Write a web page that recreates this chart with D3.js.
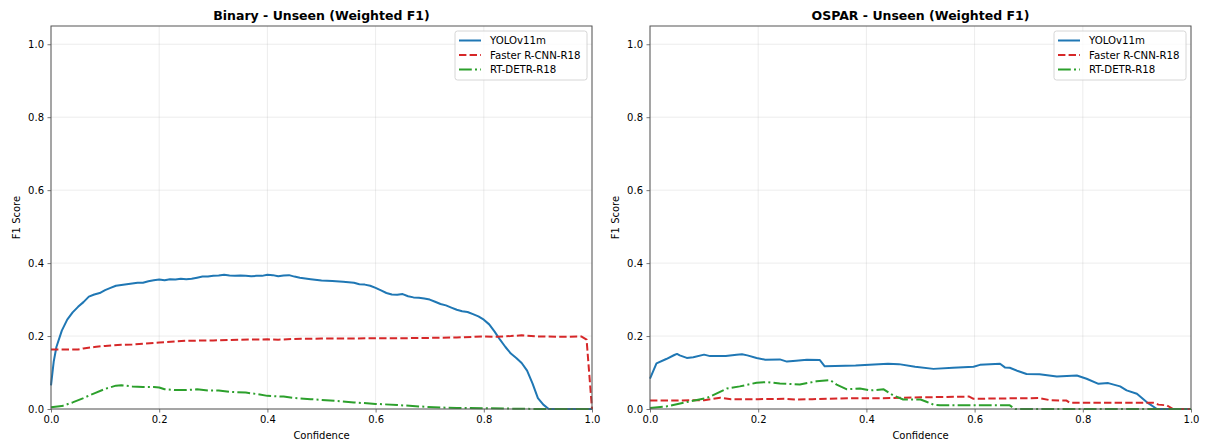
<!DOCTYPE html>
<html>
<head>
<meta charset="utf-8">
<script src="https://cdn.jsdelivr.net/npm/d3@7"></script>
<style>
  html, body { margin: 0; padding: 0; background: #fff; }
  svg { display: block; font-family: "DejaVu Sans", sans-serif; }
</style>
</head>
<body>
<svg id="chart" width="1209" height="447"></svg>
<script>
// Tick labels shared by both panels
const xTicks = [0, 0.2, 0.4, 0.6, 0.8, 1.0];
const yTicks = [0, 0.2, 0.4, 0.6, 0.8, 1.0];
const seriesNames = ["YOLOv11m", "Faster R-CNN-R18", "RT-DETR-R18"];
const panelTitles = ["Binary - Unseen (Weighted F1)", "OSPAR - Unseen (Weighted F1)"];

// Binary task: YOLOv11m
const binYoloConf = [0,0.005,0.01,0.02,0.03,0.04,0.05,0.06,0.07,0.08,0.09,0.1,0.11,0.12,0.13,0.14,0.15,0.16,0.17,0.18,0.19,0.2,0.21,0.22,0.23,0.24,0.25,0.26,0.27,0.28,0.29,0.3,0.31,0.32,0.33,0.34,0.35,0.36,0.37,0.38,0.39,0.4,0.41,0.42,0.43,0.44,0.45,0.46,0.47,0.48,0.5,0.52,0.54,0.56,0.57,0.58,0.59,0.6,0.61,0.62,0.63,0.64,0.65,0.66,0.67,0.68,0.69,0.7,0.71,0.72,0.73,0.74,0.75,0.76,0.77,0.78,0.79,0.8,0.81,0.82,0.83,0.84,0.85,0.86,0.87,0.88,0.89,0.9,0.91,0.92,1.0];
const binYoloF1 = [0.065,0.13,0.17,0.215,0.245,0.265,0.28,0.293,0.308,0.314,0.318,0.326,0.332,0.338,0.34,0.342,0.344,0.346,0.346,0.35,0.353,0.355,0.353,0.356,0.355,0.357,0.356,0.357,0.36,0.363,0.363,0.365,0.366,0.368,0.366,0.365,0.366,0.365,0.364,0.365,0.365,0.368,0.367,0.364,0.366,0.367,0.363,0.36,0.358,0.356,0.352,0.351,0.349,0.346,0.342,0.341,0.338,0.332,0.325,0.318,0.314,0.313,0.315,0.309,0.306,0.305,0.303,0.3,0.294,0.288,0.284,0.278,0.272,0.268,0.266,0.26,0.254,0.245,0.232,0.212,0.19,0.17,0.152,0.14,0.126,0.105,0.07,0.03,0.012,0,0];

// Binary task: Faster R-CNN-R18
const binFrcnnConf = [0,0.05,0.06,0.08,0.1,0.13,0.15,0.2,0.23,0.25,0.3,0.35,0.4,0.42,0.45,0.5,0.55,0.6,0.65,0.7,0.75,0.8,0.82,0.85,0.87,0.9,0.95,0.98,0.99,1.0];
const binFrcnnF1 = [0.163,0.163,0.166,0.17,0.173,0.176,0.177,0.182,0.185,0.187,0.188,0.19,0.191,0.19,0.192,0.193,0.193,0.194,0.194,0.195,0.196,0.199,0.198,0.2,0.202,0.199,0.198,0.199,0.19,0];

// Binary task: RT-DETR-R18
const binDetrConf = [0,0.02,0.04,0.06,0.08,0.1,0.12,0.13,0.15,0.17,0.19,0.2,0.21,0.23,0.25,0.27,0.29,0.31,0.33,0.36,0.38,0.4,0.43,0.45,0.48,0.5,0.53,0.56,0.6,0.64,0.68,0.72,0.75,0.8,0.85,0.9,1.0];
const binDetrF1 = [0.005,0.008,0.018,0.03,0.043,0.055,0.064,0.065,0.062,0.06,0.06,0.059,0.054,0.052,0.052,0.054,0.051,0.051,0.047,0.045,0.041,0.036,0.034,0.03,0.027,0.025,0.022,0.018,0.014,0.011,0.007,0.004,0.003,0.002,0.001,0,0];

// OSPAR task: YOLOv11m
const ospYoloConf = [0,0.012,0.03,0.045,0.05,0.055,0.068,0.08,0.1,0.111,0.14,0.16,0.17,0.18,0.197,0.213,0.24,0.253,0.27,0.29,0.314,0.323,0.38,0.44,0.46,0.49,0.524,0.56,0.598,0.61,0.647,0.656,0.665,0.68,0.696,0.72,0.752,0.789,0.807,0.829,0.847,0.869,0.881,0.9,0.918,0.937,1.0];
const ospYoloF1 = [0.083,0.125,0.137,0.148,0.151,0.147,0.14,0.142,0.149,0.145,0.145,0.149,0.15,0.147,0.14,0.135,0.136,0.13,0.132,0.135,0.134,0.117,0.119,0.124,0.123,0.116,0.11,0.113,0.116,0.121,0.124,0.114,0.113,0.104,0.096,0.095,0.089,0.092,0.083,0.069,0.071,0.062,0.051,0.042,0.019,0,0];

// OSPAR task: Faster R-CNN-R18
const ospFrcnnConf = [0,0.1,0.13,0.15,0.2,0.25,0.27,0.3,0.35,0.45,0.5,0.59,0.598,0.65,0.72,0.74,0.77,0.776,0.93,0.94,0.955,0.967,1.0];
const ospFrcnnF1 = [0.023,0.024,0.031,0.027,0.027,0.028,0.026,0.027,0.029,0.03,0.032,0.034,0.028,0.029,0.03,0.024,0.023,0.017,0.017,0.012,0.01,0,0];

// OSPAR task: RT-DETR-R18
const ospDetrConf = [0,0.03,0.068,0.105,0.142,0.166,0.197,0.216,0.24,0.277,0.308,0.333,0.345,0.364,0.388,0.407,0.432,0.45,0.468,0.5,0.511,0.524,0.536,0.665,0.675,1.0];
const ospDetrF1 = [0.003,0.007,0.019,0.03,0.056,0.062,0.072,0.074,0.07,0.067,0.076,0.079,0.067,0.054,0.056,0.051,0.054,0.037,0.026,0.026,0.02,0.012,0.01,0.01,0,0];

const zip = (xs, ys) => xs.map((x, i) => ({x, y: ys[i]}));

const styles = [
  {color: "#1f77b4", dash: null},
  {color: "#d62728", dash: "7.4,3.2"},
  {color: "#2ca02c", dash: "12.8,3.2,2,3.2"}
];

const panels = [
  {title: panelTitles[0], left: 51, series: [zip(binYoloConf, binYoloF1), zip(binFrcnnConf, binFrcnnF1), zip(binDetrConf, binDetrF1)]},
  {title: panelTitles[1], left: 650, series: [zip(ospYoloConf, ospYoloF1), zip(ospFrcnnConf, ospFrcnnF1), zip(ospDetrConf, ospDetrF1)]}
];

const svg = d3.select("#chart");
const plotW = 541, plotTop = 26, plotBottom = 409;
const spineColor = "#555";

panels.forEach(p => {
  const x = d3.scaleLinear().domain([0, 1]).range([p.left, p.left + plotW]);
  const y = d3.scaleLinear().domain([0, 1.05]).range([plotBottom, plotTop]);
  const g = svg.append("g");

  // grid
  g.append("g").selectAll("line").data(xTicks).join("line")
    .attr("x1", d => x(d)).attr("x2", d => x(d)).attr("y1", plotTop).attr("y2", plotBottom)
    .attr("stroke", "#b0b0b0").attr("stroke-opacity", 0.3).attr("stroke-width", 0.8);
  g.append("g").selectAll("line").data(yTicks).join("line")
    .attr("x1", p.left).attr("x2", p.left + plotW).attr("y1", d => y(d)).attr("y2", d => y(d))
    .attr("stroke", "#b0b0b0").attr("stroke-opacity", 0.3).attr("stroke-width", 0.8);

  // axes
  const xAxis = d3.axisBottom(x).tickValues(xTicks).tickFormat(d3.format(".1f")).tickSize(3.5).tickPadding(3.5);
  const yAxis = d3.axisLeft(y).tickValues(yTicks).tickFormat(d3.format(".1f")).tickSize(3.5).tickPadding(3.5);
  g.append("g").attr("transform", `translate(0,${plotBottom})`).call(xAxis)
    .call(s => s.select(".domain").remove())
    .call(s => s.selectAll("text").attr("font-size", 10).attr("fill", "#000").attr("font-family", "DejaVu Sans"))
    .call(s => s.selectAll("line").attr("stroke", spineColor).attr("stroke-width", 0.8));
  g.append("g").attr("transform", `translate(${p.left},0)`).call(yAxis)
    .call(s => s.select(".domain").remove())
    .call(s => s.selectAll("text").attr("font-size", 10).attr("fill", "#000").attr("font-family", "DejaVu Sans"))
    .call(s => s.selectAll("line").attr("stroke", spineColor).attr("stroke-width", 0.8));

  // series lines
  const line = d3.line().x(d => x(d.x)).y(d => y(d.y));
  p.series.forEach((data, i) => {
    g.append("path").datum(data).attr("d", line)
      .attr("fill", "none").attr("stroke", styles[i].color).attr("stroke-width", 2)
      .attr("stroke-dasharray", styles[i].dash).attr("stroke-linejoin", "round");
  });

  // frame
  g.append("rect").attr("x", p.left).attr("y", plotTop).attr("width", plotW).attr("height", plotBottom - plotTop)
    .attr("fill", "none").attr("stroke", spineColor).attr("stroke-width", 1);

  // title and labels
  g.append("text").attr("x", p.left + plotW / 2).attr("y", 20).attr("text-anchor", "middle")
    .attr("font-size", 12.5).attr("font-weight", "bold").text(p.title);
  g.append("text").attr("x", p.left + plotW / 2).attr("y", 439).attr("text-anchor", "middle")
    .attr("font-size", 10).text("Confidence");
  g.append("text").attr("transform", `translate(${p.left - 31},${(plotTop + plotBottom) / 2}) rotate(-90)`)
    .attr("text-anchor", "middle").attr("font-size", 10).text("F1 Score");

  // legend
  const lx = p.left + plotW - 137, ly = 31;
  const lg = g.append("g");
  lg.append("rect").attr("x", lx).attr("y", ly).attr("width", 132).attr("height", 49).attr("rx", 2.5)
    .attr("fill", "#fff").attr("fill-opacity", 0.8).attr("stroke", "#ccc").attr("stroke-width", 0.8);
  seriesNames.forEach((name, i) => {
    const yy = ly + 9.5 + i * 14.5;
    lg.append("line").attr("x1", lx + 4).attr("x2", lx + 26).attr("y1", yy).attr("y2", yy)
      .attr("stroke", styles[i].color).attr("stroke-width", 2).attr("stroke-dasharray", styles[i].dash);
    lg.append("text").attr("x", lx + 35).attr("y", yy + 3.5).attr("font-size", 10.2).text(name);
  });
});
</script>
</body>
</html>
